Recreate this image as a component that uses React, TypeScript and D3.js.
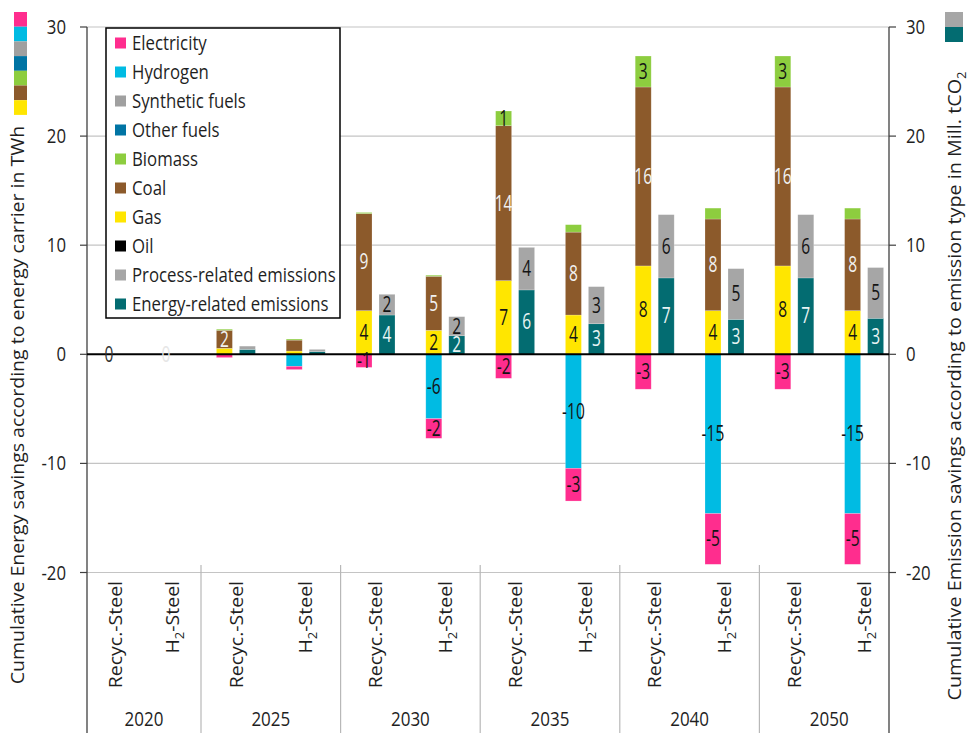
import React from "react";
import * as d3 from "d3";

// ---- data ----
const years = ["2020", "2025", "2030", "2035", "2040", "2050"];
const routes = ["Recyc.-Steel", "H2-Steel"];

// energy carriers, one value per category (year x route), in TWh
const electricity = [0, 0, -0.3, -0.3, -1.2, -1.8, -2.2, -3.0, -3.2, -4.65, -3.2, -4.65];
const hydrogen = [0, 0, 0, -1.1, 0, -5.9, 0, -10.45, 0, -14.6, 0, -14.6];
const syntheticFuels = [0, 0, 0, 0, 0, 0, 0, 0, 0, 0, 0, 0];
const otherFuels = [0, 0, 0, 0, 0, 0, 0, 0, 0, 0, 0, 0];
const biomass = [0, 0, 0.1, 0.1, 0.1, 0.1, 1.35, 0.68, 2.84, 1.0, 2.84, 1.0];
const coal = [0, 0, 1.65, 1.0, 8.9, 4.95, 14.2, 7.6, 16.4, 8.4, 16.4, 8.4];
const gas = [0, 0, 0.55, 0.3, 4.0, 2.2, 6.75, 3.6, 8.1, 4.0, 8.1, 4.0];
const oil = [0, 0, 0, 0, 0, 0, 0, 0, 0, 0, 0, 0];

// emissions, Mill. tCO2
const energyRelated = [0, 0, 0.45, 0.25, 3.6, 1.7, 5.9, 2.8, 7.0, 3.2, 7.0, 3.3];
const processRelated = [0, 0, 0.3, 0.2, 1.9, 1.75, 3.9, 3.4, 5.8, 4.65, 5.8, 4.65];

const yTicks = [30, 20, 10, 0, -10, -20];

const legendNames = [
  "Electricity", "Hydrogen", "Synthetic fuels", "Other fuels", "Biomass",
  "Coal", "Gas", "Oil", "Process-related emissions", "Energy-related emissions",
];
const colors: Record<string, string> = {
  Electricity: "#ff2d8e",
  Hydrogen: "#00bbe3",
  "Synthetic fuels": "#a0a0a0",
  "Other fuels": "#0074a4",
  Biomass: "#8dcd3f",
  Coal: "#8c5a2b",
  Gas: "#ffe600",
  Oil: "#000000",
  "Process-related emissions": "#a6a6a6",
  "Energy-related emissions": "#036c71",
};
const labelColors: Record<string, string> = {
  Coal: "#f2f2f2",
  "Energy-related emissions": "#e8f4f4",
};

// stacking order (bottom -> top / nearest zero first)
const energyKeys = ["Oil", "Gas", "Coal", "Biomass", "Other fuels", "Synthetic fuels", "Hydrogen", "Electricity"];
const emissionKeys = ["Energy-related emissions", "Process-related emissions"];

const categories = years.flatMap((y) => routes.map((r) => ({ year: y, route: r })));
const energyRows = categories.map((c, i) => ({
  Electricity: electricity[i], Hydrogen: hydrogen[i], "Synthetic fuels": syntheticFuels[i],
  "Other fuels": otherFuels[i], Biomass: biomass[i], Coal: coal[i], Gas: gas[i], Oil: oil[i],
}));
const emissionRows = categories.map((c, i) => ({
  "Energy-related emissions": energyRelated[i], "Process-related emissions": processRelated[i],
}));

const W = 969, H = 733;
const FONT = "'Open Sans', 'Noto Sans', sans-serif";

function T(props: any) {
  const { x, y, sx = 0.86, rot = 0, size = 20, anchor = "start", fill = "#1f1f1f", dy = "0.35em", children } = props;
  return (
    <text
      transform={`translate(${x},${y}) scale(${sx},1)${rot ? ` rotate(${rot})` : ""}`}
      textAnchor={anchor}
      fontSize={size}
      fontFamily={FONT}
      fill={fill}
      dy={dy}
    >
      {children}
    </text>
  );
}

export default function App() {
  const left = 87, right = 889, top = 27, bottom = 572.5;
  const x = d3.scaleLinear().domain([0, 2, categories.length]).range([left, 201, 899]);
  const inner = d3.scaleBand<string>().domain(["energy", "emission"]).range([-19.5, 19.5]).paddingInner(0.304);
  const y = d3.scaleLinear().domain([-20, 30]).range([bottom, top]);

  const eStack = d3.stack<any>().keys(energyKeys).offset(d3.stackOffsetDiverging)(energyRows);
  const mStack = d3.stack<any>().keys(emissionKeys).offset(d3.stackOffsetDiverging)(emissionRows);

  const cx = (i: number) => x(i + 0.5);
  const bw = inner.bandwidth();

  const renderStack = (stack: any[], kind: string) =>
    stack.map((layer) => (
      <g key={kind + layer.key}>
        {layer.map((d: any, i: number) => {
          const v = d.data[layer.key];
          if (!v) return null;
          const x0 = cx(i) + (inner(kind) as number);
          const y0 = y(Math.max(d[0], d[1]));
          const h = Math.abs(y(d[0]) - y(d[1]));
          return (
            <rect key={i} x={x0} y={y0} width={bw} height={h} fill={colors[layer.key]} stroke="#ffffff" strokeOpacity={0.35} strokeWidth={0.6} />
          );
        })}
      </g>
    ));

  const renderLabels = (stack: any[], kind: string) =>
    stack.map((layer) =>
      layer.map((d: any, i: number) => {
        const v = d.data[layer.key];
        if (Math.abs(v) < 1.15) return null;
        const xm = cx(i) + (inner(kind) as number) + bw / 2;
        const ym = y((d[0] + d[1]) / 2);
        return (
          <T key={kind + layer.key + i} x={xm} y={ym} anchor="middle" size={21} sx={0.74} fill={labelColors[layer.key] || "#141414"}>
            {String(Math.round(v))}
          </T>
        );
      })
    );

  // categories with no values at all get a "0" label
  const zeroLabels = categories.map((c, i) => {
    const all = energyKeys.every((k) => !(energyRows[i] as any)[k]) && emissionKeys.every((k) => !(emissionRows[i] as any)[k]);
    if (!all) return null;
    const xm = cx(i) + (inner("energy") as number) + bw / 2 + 5;
    return (
      <T key={"z" + i} x={xm} y={y(0)} anchor="middle" size={21} sx={0.74} fill={i % 2 === 0 ? "#333333" : "#e6e6e6"}>
        0
      </T>
    );
  });

  const legendSquaresLeft = ["Electricity", "Hydrogen", "Synthetic fuels", "Other fuels", "Biomass", "Coal", "Gas"];

  return (
    <svg width={W} height={H} style={{ position: "absolute", left: 0, top: 0, background: "#fff" }}>
      <rect width={W} height={H} fill="#fff" />
      {/* gridlines */}
      {yTicks.filter((t) => t !== 0).map((t) => (
        <line key={t} x1={left} x2={right} y1={y(t)} y2={y(t)} stroke="#c4c4c4" strokeWidth={1.2} />
      ))}
      {/* group separators in category area */}
      {years.slice(1).map((yr, g) => (
        <line key={yr} x1={x((g + 1) * 2)} x2={x((g + 1) * 2)} y1={565} y2={H} stroke="#b8b8b8" strokeWidth={1.2} />
      ))}
      {/* axes */}
      <line x1={left} x2={left} y1={top} y2={H} stroke="#404040" strokeWidth={1.3} />
      <line x1={right} x2={right} y1={top} y2={H} stroke="#404040" strokeWidth={1.3} />
      {yTicks.map((t) => (
        <g key={"tk" + t}>
          <line x1={left - 7} x2={left} y1={y(t)} y2={y(t)} stroke="#404040" strokeWidth={1.2} />
          <line x1={right} x2={right + 7} y1={y(t)} y2={y(t)} stroke="#404040" strokeWidth={1.2} />
          <T x={66} y={y(t)} anchor="end" size={20} sx={0.84}>{String(t)}</T>
          <T x={906} y={y(t)} anchor="start" size={20} sx={0.84}>{String(t)}</T>
        </g>
      ))}

      {/* bars */}
      {renderStack(eStack, "energy")}
      {renderStack(mStack, "emission")}
      <line x1={left} x2={right} y1={y(0)} y2={y(0)} stroke="#000" strokeWidth={2} />
      {renderLabels(eStack, "energy")}
      {renderLabels(mStack, "emission")}
      {zeroLabels}

      {/* category labels */}
      {categories.map((c, i) => (
        <T key={"c" + i} x={cx(i)} y={581} rot={-90} anchor="end" size={19.5} sx={0.97}>
          {c.route === "H2-Steel" ? (
            <>
              H<tspan dy={5} fontSize={13}>2</tspan><tspan dy={-5}>-Steel</tspan>
            </>
          ) : (
            c.route
          )}
        </T>
      ))}
      {years.map((yr, g) => (
        <T key={"y" + yr} x={(x(g * 2) + x(g * 2 + 2)) / 2} y={719} anchor="middle" size={20} sx={0.85}>
          {yr}
        </T>
      ))}

      {/* axis titles */}
      <T x={18} y={405} rot={-90} anchor="middle" size={19.5} sx={0.92}>
        Cumulative Energy savings according to energy carrier in TWh
      </T>
      <T x={955} y={386} rot={-90} anchor="middle" size={19.8} sx={0.92}>
        Cumulative Emission savings according to emission type in Mill. tCO<tspan dy={5} fontSize={13}>2</tspan>
      </T>

      {/* color keys next to axis titles */}
      {legendSquaresLeft.map((k, i) => (
        <rect key={"sq" + k} x={14} y={12 + i * 14.7} width={13} height={14.7} fill={colors[k]} />
      ))}
      <rect x={945} y={12} width={18} height={15} fill={colors["Process-related emissions"]} />
      <rect x={945} y={27} width={18} height={15} fill={colors["Energy-related emissions"]} />

      {/* legend */}
      <rect x={106} y={28} width={234} height={290} fill="#fff" stroke="#000" strokeWidth={1.5} />
      {legendNames.map((n, i) => (
        <g key={"lg" + n}>
          <rect x={115} y={43 + i * 29 - 5.5} width={11} height={11} fill={colors[n]} />
          <T x={132} y={43 + i * 29} size={20} sx={0.84}>{n}</T>
        </g>
      ))}
    </svg>
  );
}
